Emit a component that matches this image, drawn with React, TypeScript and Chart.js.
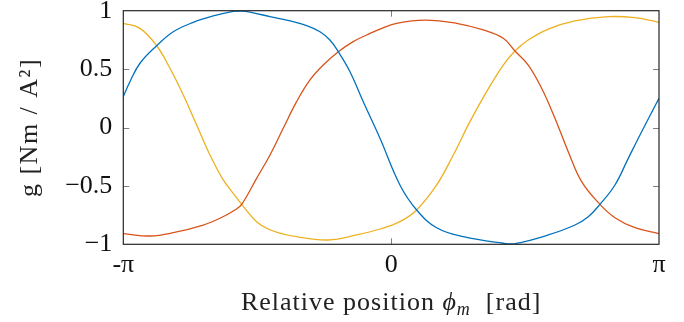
import React, { useEffect, useRef } from "react";
import { Chart, registerables } from "chart.js";

Chart.register(...registerables);

const PI = Math.PI;

// Blue series (x in rad, y in Nm/A^2)
const blueX = [-PI, -3.064, -2.946, -2.75, -2.556, -2.321, -2.087, -1.852, -1.753, -1.656, -1.421, -1.187, -0.991, -0.835, -0.718, -0.62, -0.483, -0.327, -0.131, 0.103, 0.299, 0.534, 0.846, 1.315, 1.452, 1.843, 2.156, 2.312, 2.449, 2.625, 2.781, 2.938, PI];
const blueY = [0.265, 0.392, 0.55, 0.7, 0.82, 0.9, 0.955, 0.994, 0.997, 0.988, 0.949, 0.912, 0.872, 0.82, 0.749, 0.649, 0.478, 0.221, -0.092, -0.492, -0.706, -0.858, -0.935, -0.991, -0.995, -0.92, -0.835, -0.764, -0.658, -0.492, -0.264, -0.036, 0.25];

// Red series
const redX = [-PI, -2.829, -2.556, -2.204, -2.008, -1.832, -1.753, -1.578, -1.421, -1.266, -1.109, -0.952, -0.796, -0.62, -0.445, -0.287, -0.131, 0.064, 0.396, 0.768, 1.08, 1.315, 1.452, 1.608, 1.765, 1.921, 2.077, 2.234, 2.449, 2.625, 2.859, PI];
const redY = [-0.909, -0.929, -0.901, -0.835, -0.777, -0.706, -0.658, -0.435, -0.235, -0.007, 0.221, 0.407, 0.535, 0.649, 0.735, 0.792, 0.843, 0.892, 0.92, 0.892, 0.835, 0.764, 0.655, 0.535, 0.336, 0.079, -0.207, -0.464, -0.658, -0.772, -0.858, -0.909];

// Yellow series
const yellowX = [-PI, -2.946, -2.75, -2.594, -2.438, -2.281, -2.125, -1.969, -1.832, -1.753, -1.578, -1.383, -1.109, -0.737, -0.405, -0.131, 0.103, 0.299, 0.534, 0.729, 0.924, 1.12, 1.315, 1.452, 1.608, 1.843, 2.156, 2.547, 2.859, PI];
const yellowY = [0.892, 0.849, 0.7, 0.507, 0.278, 0.021, -0.235, -0.449, -0.584, -0.658, -0.806, -0.886, -0.935, -0.963, -0.92, -0.869, -0.806, -0.706, -0.492, -0.235, 0.05, 0.307, 0.535, 0.655, 0.749, 0.843, 0.912, 0.949, 0.94, 0.9];

const xTickValues = [-PI, 0, PI];
const xTickLabels = ["-π", "0", "π"];
const yTickValues = [-1, -0.5, 0, 0.5, 1];
const yTickLabels = ["−1", "−0.5", "0", "0.5", "1"];

const seriesColors = ["#0072BD", "#D95319", "#EDB120"];

const FONT = "'Liberation Serif', 'Times New Roman', serif";

const framePlugin = {
  id: "frameAndTitles",
  afterDraw(chart: any) {
    const { ctx, chartArea } = chart;
    const { left, right, top, bottom } = chartArea;
    const xs = chart.scales.x;
    const ys = chart.scales.y;
    ctx.save();
    // tick marks (inside, both sides)
    ctx.strokeStyle = "#808080";
    ctx.lineWidth = 1;
    ctx.beginPath();
    for (const v of yTickValues) {
      if (v === -1 || v === 1) continue;
      const py = Math.round(ys.getPixelForValue(v)) + 0.5;
      ctx.moveTo(left, py);
      ctx.lineTo(left + 6, py);
      ctx.moveTo(right, py);
      ctx.lineTo(right - 6, py);
    }
    for (const v of xTickValues) {
      if (v === -PI || v === PI) continue;
      const px = Math.round(xs.getPixelForValue(v)) + 0.5;
      ctx.moveTo(px, bottom);
      ctx.lineTo(px, bottom - 6);
      ctx.moveTo(px, top);
      ctx.lineTo(px, top + 6);
    }
    ctx.stroke();
    // frame
    ctx.strokeStyle = "#262626";
    ctx.lineWidth = 1.2;
    ctx.strokeRect(left, top, right - left, bottom - top);

    // x title with math part
    ctx.fillStyle = "#222";
    ctx.textBaseline = "alphabetic";
    const size = 26;
    const regular = `${size}px ${FONT}`;
    const italic = `italic ${size}px ${FONT}`;
    const sub = `italic ${Math.round(size * 0.7)}px ${FONT}`;
    (ctx as any).letterSpacing = "1px";
    const parts = [
      { t: "Relative position ", f: regular, dy: 0 },
      { t: "ϕ", f: italic, dy: 0 },
      { t: "m", f: sub, dy: 5 },
      { t: "  [rad]", f: regular, dy: 0 },
    ];
    let total = 0;
    for (const p of parts) {
      ctx.font = p.f;
      total += ctx.measureText(p.t).width;
    }
    let cx = (left + right) / 2 - total / 2;
    const baseY = 310;
    ctx.textAlign = "left";
    for (const p of parts) {
      ctx.font = p.f;
      ctx.fillText(p.t, cx, baseY + p.dy);
      cx += ctx.measureText(p.t).width;
    }

    // y title
    (ctx as any).letterSpacing = "1.5px";
    ctx.translate(30, (top + bottom) / 2);
    ctx.rotate(-Math.PI / 2);
    ctx.font = regular;
    ctx.textAlign = "center";
    ctx.textBaseline = "middle";
    ctx.fillText("g [Nm / A²]", 0, 0);
    ctx.restore();
  },
};

export default function App() {
  const ref = useRef<HTMLCanvasElement | null>(null);

  useEffect(() => {
    document.body.style.margin = "0";
    const canvas = ref.current;
    if (!canvas) return;
    const mk = (xs: number[], ys: number[]) => xs.map((x, i) => ({ x, y: ys[i] }));
    const chart = new Chart(canvas, {
      type: "line",
      data: {
        datasets: [
          { label: "A", data: mk(blueX, blueY), borderColor: seriesColors[0] },
          { label: "B", data: mk(redX, redY), borderColor: seriesColors[1] },
          { label: "C", data: mk(yellowX, yellowY), borderColor: seriesColors[2] },
        ].map((d) => ({
          ...d,
          borderWidth: 1.3,
          pointRadius: 0,
          fill: false,
          tension: 0.4,
        })),
      },
      options: {
        animation: false,
        responsive: false,
        maintainAspectRatio: false,
        devicePixelRatio: 1,
        layout: { padding: { top: 10.7, right: 25, left: 0, bottom: 0 } },
        plugins: { legend: { display: false }, tooltip: { enabled: false }, title: { display: false } },
        scales: {
          x: {
            type: "linear",
            min: -PI,
            max: PI,
            afterBuildTicks: (s: any) => {
              s.ticks = xTickValues.map((value) => ({ value }));
            },
            afterFit: (s: any) => {
              s.height = 77.7;
              s.paddingLeft = 0;
              s.paddingRight = 0;
            },
            ticks: {
              autoSkip: false,
              maxRotation: 0,
              padding: 5,
              color: "#111",
              font: { family: FONT, size: 26 },
              callback: (v: any) => {
                const i = xTickValues.findIndex((t) => Math.abs(t - Number(v)) < 1e-6);
                return i >= 0 ? xTickLabels[i] : "";
              },
            },
            grid: { display: false, drawTicks: false },
            border: { display: false },
          },
          y: {
            type: "linear",
            min: -1,
            max: 1,
            afterBuildTicks: (s: any) => {
              s.ticks = yTickValues.map((value) => ({ value }));
            },
            afterFit: (s: any) => {
              s.width = 123.3;
              s.paddingTop = 0;
              s.paddingBottom = 0;
            },
            ticks: {
              padding: 11,
              color: "#111",
              font: { family: FONT, size: 26 },
              callback: (v: any) => {
                const i = yTickValues.findIndex((t) => Math.abs(t - Number(v)) < 1e-6);
                return i >= 0 ? yTickLabels[i] : "";
              },
            },
            grid: { display: false, drawTicks: false },
            border: { display: false },
          },
        },
      },
      plugins: [framePlugin],
    });
    return () => chart.destroy();
  }, []);

  return (
    <div style={{ position: "fixed", left: 0, top: 0, width: 684, height: 322, background: "#fff" }}>
      <canvas ref={ref} width={684} height={322} style={{ width: 684, height: 322, display: "block" }} />
    </div>
  );
}
